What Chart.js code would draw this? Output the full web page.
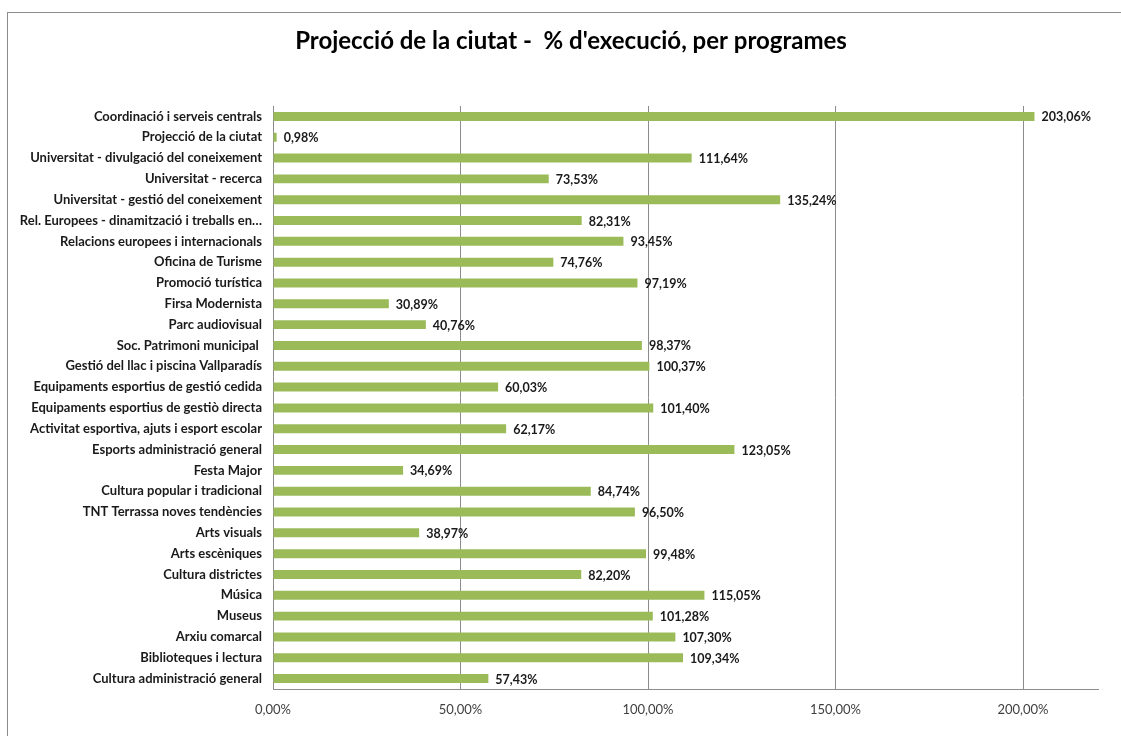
<!DOCTYPE html>
<html><head><meta charset="utf-8">
<script src="https://cdn.jsdelivr.net/npm/chart.js@4/dist/chart.umd.min.js"></script>
<style>
html,body{margin:0;padding:0;background:#fff;overflow:hidden}
#frame{position:absolute;left:7px;top:12px;width:1200px;height:800px;border-left:1px solid #8c8c8c;border-top:1px solid #8c8c8c}
#wrap{position:absolute;left:0;top:0;width:1121px;height:736px}
</style></head><body>
<div id="frame"></div>
<div id="wrap"><canvas id="c" width="1121" height="736"></canvas></div>
<script>
const categories = [
"Coordinació i serveis centrals","Projecció de la ciutat","Universitat - divulgació del coneixement","Universitat - recerca","Universitat - gestió del coneixement","Rel. Europees - dinamització i treballs en…","Relacions europees i internacionals","Oficina de Turisme","Promoció turística","Firsa Modernista","Parc audiovisual","Soc. Patrimoni municipal ","Gestió del llac i piscina Vallparadís","Equipaments esportius de gestió cedida","Equipaments esportius de gestiò directa","Activitat esportiva, ajuts i esport escolar","Esports administració general","Festa Major","Cultura popular i tradicional","TNT Terrassa noves tendències","Arts visuals","Arts escèniques","Cultura districtes","Música","Museus","Arxiu comarcal","Biblioteques i lectura","Cultura administració general"];
const execucio = [203.06,0.98,111.64,73.53,135.24,82.31,93.45,74.76,97.19,30.89,40.76,98.37,100.37,60.03,101.40,62.17,123.05,34.69,84.74,96.50,38.97,99.48,82.20,115.05,101.28,107.30,109.34,57.43];
const xTicks = [0,50,100,150,200];
const titleText = "Projecció de la ciutat -  % d'execució, per programes";
const fmt = v => v.toFixed(2).replace('.',',') + '%';
const FONT = "Lato, 'Open Sans', sans-serif";

const valueLabels = {
  id:'valueLabels',
  afterDatasetsDraw(chart){
    const ctx = chart.ctx;
    const meta = chart.getDatasetMeta(0);
    ctx.save();
    ctx.font = "bold 12.5px " + FONT;
    ctx.fillStyle = "#1a1a1a";
    ctx.textBaseline = "middle";
    ctx.textAlign = "left";
    meta.data.forEach((bar,i)=>{
      ctx.fillText(fmt(chart.data.datasets[0].data[i]), bar.x + 7, bar.y + 1);
    });
    ctx.restore();
  }
};
const chartTitle = {
  id:'chartTitle',
  afterDraw(chart){
    const ctx = chart.ctx;
    ctx.save();
    ctx.font = "bold 24px " + FONT;
    ctx.fillStyle = "#000";
    ctx.textAlign = "center";
    ctx.textBaseline = "middle";
    ctx.fillText(titleText, 571, 41);
    ctx.restore();
  }
};

new Chart(document.getElementById('c'), {
  type:'bar',
  data:{labels:categories, datasets:[{data:execucio, backgroundColor:'#9bbb59', borderWidth:0, categoryPercentage:1, barPercentage:0.43}]},
  options:{
    indexAxis:'y', responsive:false, animation:false,
    layout:{padding:{left:10,right:23,top:106,bottom:0}},
    plugins:{ legend:{display:false}, tooltip:{enabled:false}, title:{display:false} },
    scales:{
      x:{min:0,max:220,
        afterBuildTicks(s){ s.ticks = xTicks.map(v=>({value:v})); },
        afterFit(s){ s.height = 47; },
        ticks:{callback:v=>fmt(v), color:'#404040', font:{family:FONT,size:13}, padding:13, maxRotation:0},
        grid:{color:'#8c8c8c', drawTicks:false, lineWidth:1},
        border:{display:true,color:'#8c8c8c'}
      },
      y:{
        afterFit(s){ s.width = 263; },
        ticks:{color:'#1a1a1a', font:{family:FONT,size:13,weight:'bold'}, padding:11, autoSkip:false},
        grid:{display:false, drawTicks:false},
        border:{display:true,color:'#8c8c8c'}
      }
    }
  },
  plugins:[valueLabels, chartTitle]
});
</script>
</body></html>
